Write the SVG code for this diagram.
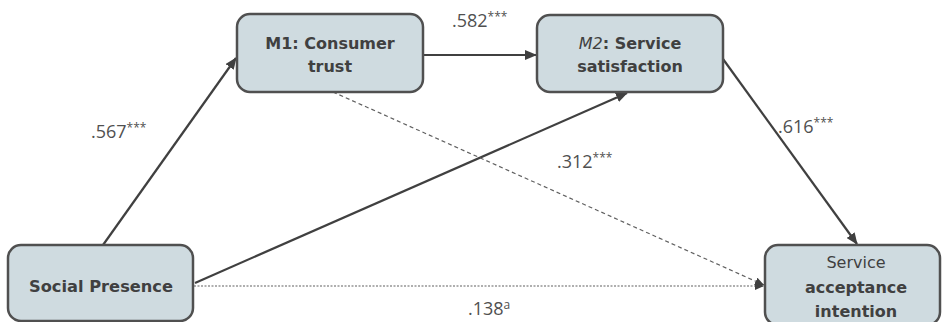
<svg xmlns="http://www.w3.org/2000/svg" width="943" height="322" viewBox="0 0 943 322">
<style>
.box{fill:#cfdbe0;stroke:#505050;stroke-width:2.5}
.nt{font-family:"DejaVu Sans",Verdana,sans-serif;font-size:16px;font-weight:bold;fill:#404040;text-anchor:middle}
.nr{font-weight:normal}
.it{font-style:italic;font-weight:normal}
.lbl{font-family:"Open Sans","Liberation Sans",sans-serif;font-size:18px;fill:#505050}
.sup{font-size:12px}
.solid{stroke:#404040;stroke-width:2.2;fill:none}
.dash{stroke:#606060;stroke-width:1.2;fill:none;stroke-dasharray:4 3}
.dot{stroke:#606060;stroke-width:1.2;fill:none;stroke-dasharray:2 1.5}
</style>
<defs>
<marker id="ah" markerUnits="userSpaceOnUse" markerWidth="12" markerHeight="10" refX="11" refY="5" orient="auto">
<path d="M0,0 L12,5 L0,10 z" fill="#404040"/>
</marker>
<marker id="ahs" markerUnits="userSpaceOnUse" markerWidth="9" markerHeight="8" refX="9" refY="4" orient="auto">
<path d="M0,0 L9,4 L0,8 z" fill="#404040"/>
</marker>
</defs>
<rect width="943" height="322" fill="#ffffff"/>
<g id="connectors">
<line class="solid" x1="103" y1="245" x2="236" y2="58" marker-end="url(#ah)"/>
<line class="solid" x1="423" y1="55" x2="536" y2="55" marker-end="url(#ah)"/>
<line class="solid" x1="195" y1="283" x2="627" y2="93" marker-end="url(#ah)"/>
<line class="solid" x1="723" y1="59" x2="857" y2="244" marker-end="url(#ah)"/>
<line class="dash" x1="333" y1="92" x2="764" y2="285" marker-end="url(#ahs)"/>
<line class="dot" x1="194" y1="286" x2="764" y2="286" marker-end="url(#ahs)"/>
</g>
<g id="labels">
<text class="lbl" x="91" y="138">.567<tspan class="sup" dy="-6">***</tspan></text>
<text class="lbl" x="452" y="27">.582<tspan class="sup" dy="-6">***</tspan></text>
<text class="lbl" x="557" y="168">.312<tspan class="sup" dy="-6">***</tspan></text>
<text class="lbl" x="778" y="133">.616<tspan class="sup" dy="-6">***</tspan></text>
<text class="lbl" x="468" y="315">.138<tspan class="sup" dy="-6">a</tspan></text>
</g>
<g id="m1">
<rect class="box" x="237" y="14" width="186" height="78" rx="13"/>
<text class="nt" x="330" y="49">M1: Consumer</text>
<text class="nt" x="330" y="72">trust</text>
</g>
<g id="m2">
<rect class="box" x="537" y="15" width="186" height="77" rx="13"/>
<text class="nt" x="630" y="49"><tspan class="it">M2</tspan>: Service</text>
<text class="nt" x="630" y="72">satisfaction</text>
</g>
<g id="sp">
<rect class="box" x="8" y="245" width="185" height="76" rx="13"/>
<text class="nt" x="101" y="292" textLength="144" lengthAdjust="spacingAndGlyphs">Social Presence</text>
</g>
<g id="sai">
<rect class="box" x="765" y="245" width="175" height="80" rx="13"/>
<text class="nt nr" x="856" y="268">Service</text>
<text class="nt" x="856" y="293">acceptance</text>
<text class="nt" x="856" y="317">intention</text>
</g>
</svg>
